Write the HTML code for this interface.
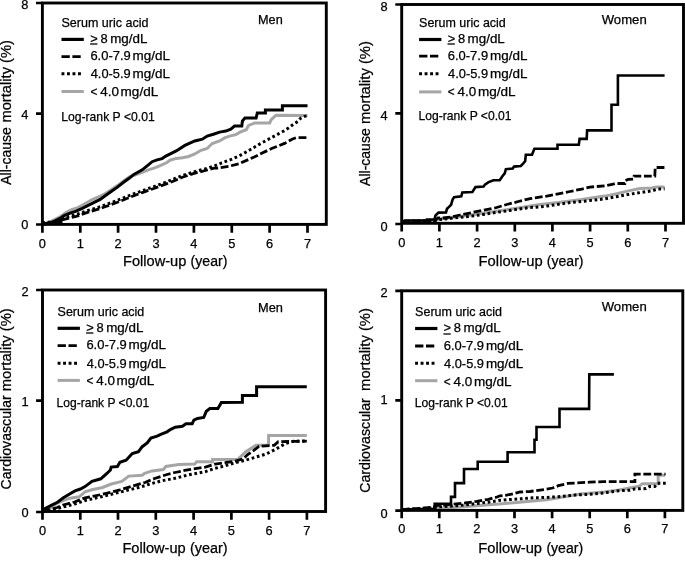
<!DOCTYPE html>
<html><head><meta charset="utf-8"><style>
html,body{margin:0;padding:0;background:#fff;}
svg{display:block;}
text{font-family:"Liberation Sans", sans-serif;fill:#000;stroke:#000;stroke-width:0.25px;}
svg{-webkit-font-smoothing:antialiased;}
</style></head><body>
<svg width="685" height="564" viewBox="0 0 685 564" style="will-change:transform">
<rect width="685" height="564" fill="#fff"/>
<path d="M42.2,224.5 L49.0,222.3 L55.0,219.3 L61.0,216.3 L66.0,212.5 L72.2,209.3 L78.0,207.6 L82.2,205.2 L91.8,199.8 L100.2,196.1 L105.0,193.8 L111.2,189.8 L117.4,185.6 L123.6,181.0 L129.8,176.6 L133.5,175.5 L142.2,172.3 L148.4,169.8 L154.6,167.9 L160.8,165.4 L167.0,162.5 L170.0,160.2 L176.2,158.4 L182.4,157.8 L188.6,156.5 L194.8,154.0 L201.0,150.3 L207.2,148.5 L212.2,143.5 L219.6,141.0 L224.6,137.9 L229.6,136.1 L235.8,134.6 L240.0,132.2 L246.2,129.7 L248.6,125.4 L254.9,122.9 L269.7,122.9 L271.0,119.8 L275.9,115.3 L307.5,115.4" fill="none" stroke="#a5a5a5" stroke-width="3" stroke-linejoin="miter"/>
<path d="M42.2,222.6 L60.5,221.8 L62.0,218.2 L76.1,214.6 L88.2,210.4 L100.2,206.8 L105.0,205.0 L117.4,200.3 L129.8,195.3 L142.2,190.8 L154.6,186.4 L167.0,181.8 L175.0,178.5 L182.4,175.6 L194.8,171.6 L207.2,168.3 L214.0,166.0 L221.9,162.8 L230.6,159.7 L239.4,155.8 L248.2,150.9 L256.9,145.7 L260.0,143.9 L272.2,137.2 L284.6,130.6 L288.9,127.8 L293.3,124.3 L297.7,121.6 L300.4,118.5 L304.8,116.3 L307.5,115.6" fill="none" stroke="#000" stroke-width="3" stroke-dasharray="2.7 2.7"/>
<path d="M42.2,223.6 L60.5,222.6 L62.0,219.8 L76.1,216.4 L88.2,212.2 L100.2,208.6 L105.0,206.8 L117.4,202.3 L129.8,197.3 L142.2,192.6 L154.6,188.2 L167.0,183.6 L175.0,180.5 L182.4,177.2 L194.8,173.2 L207.2,170.0 L214.0,168.2 L217.5,168.0 L228.9,166.3 L239.4,163.6 L249.0,159.3 L256.9,155.8 L260.0,154.0 L272.2,148.3 L284.6,143.4 L292.1,139.2 L296.0,137.7 L307.5,137.7" fill="none" stroke="#000" stroke-width="2.8" stroke-dasharray="7.8 2.7"/>
<path d="M42.2,224.5 L49.0,223.3 L55.0,220.8 L61.0,217.8 L64.1,215.5 L70.1,213.2 L76.1,211.2 L82.2,208.4 L88.2,205.4 L94.2,202.4 L100.2,199.4 L105.5,195.5 L111.2,191.5 L117.4,187.1 L123.6,182.2 L129.8,177.8 L133.5,174.7 L142.2,169.8 L148.4,164.8 L152.1,161.7 L157.1,159.9 L162.1,158.6 L165.8,156.1 L170.8,153.6 L176.2,150.9 L184.9,145.4 L194.8,141.0 L202.3,139.2 L207.2,136.1 L213.4,134.2 L219.6,132.1 L225.8,131.1 L230.8,129.2 L234.5,126.1 L241.8,126.0 L242.4,121.1 L244.9,118.0 L256.1,118.0 L257.3,113.0 L265.4,113.0 L265.4,110.0 L282.4,110.0 L282.4,105.7 L307.5,105.7" fill="none" stroke="#000" stroke-width="3.0" stroke-linejoin="miter" stroke-linecap="butt"/>
<path d="M401.7,222.0 L405.0,221.0 L434.0,220.5 L440.0,219.0 L460.0,216.5 L495.0,211.5 L540.0,204.5 L558.4,202.6 L581.7,199.6 L599.3,196.7 L605.0,196.1 L616.7,193.8 L628.4,190.9 L640.0,188.6 L651.7,188.0 L656.4,187.1 L664.6,187.1" fill="none" stroke="#a5a5a5" stroke-width="3" stroke-linejoin="miter"/>
<path d="M401.7,222.0 L405.0,221.2 L434.0,220.8 L440.0,219.5 L460.0,217.3 L471.7,216.1 L483.4,214.4 L495.0,212.6 L506.7,210.9 L518.4,209.1 L530.1,207.4 L535.0,207.2 L546.7,206.1 L558.4,204.3 L570.0,202.6 L581.7,201.4 L593.4,200.2 L605.1,198.8 L616.7,196.7 L628.4,194.4 L640.0,192.6 L651.7,190.9 L657.6,189.1 L664.6,189.1" fill="none" stroke="#000" stroke-width="3" stroke-dasharray="2.7 2.7"/>
<path d="M401.7,222.0 L405.0,221.5 L434.0,221.0 L438.0,218.0 L442.9,218.0 L451.1,217.0 L460.0,215.0 L471.7,212.6 L483.4,210.3 L495.0,208.0 L506.7,204.5 L518.4,201.5 L530.1,198.6 L535.0,197.9 L546.7,196.1 L558.4,193.8 L570.0,191.5 L581.7,189.1 L589.9,187.1 L605.1,185.8 L612.0,184.5 L615.0,183.5 L624.9,183.5 L625.5,180.5 L628.2,179.4 L633.6,179.0 L634.1,176.2 L654.8,176.2 L655.2,167.5 L664.6,167.5" fill="none" stroke="#000" stroke-width="2.8" stroke-dasharray="7.8 2.7"/>
<path d="M401.7,222.3 L405.0,222.3 L405.0,220.5 L427.0,220.5 L427.0,219.6 L434.5,219.4 L435.5,215.5 L438.5,212.6 L446.0,212.4 L447.0,208.8 L448.5,207.3 L451.1,204.7 L452.6,199.6 L454.1,197.1 L461.3,196.3 L462.3,192.5 L472.4,192.0 L475.5,187.1 L483.6,186.5 L484.9,184.6 L488.6,182.1 L493.5,180.2 L499.7,180.2 L502.2,176.5 L504.7,173.4 L505.9,169.1 L512.8,168.5 L514.0,166.6 L520.8,166.0 L523.3,163.5 L525.2,161.0 L525.8,154.8 L532.0,154.8 L533.2,151.7 L534.4,148.7 L557.5,148.7 L557.5,144.8 L578.8,144.8 L579.6,138.9 L586.7,138.9 L587.1,130.4 L611.5,130.4 L611.5,104.7 L617.9,104.7 L617.9,75.5 L664.6,75.5" fill="none" stroke="#000" stroke-width="2.6" stroke-linejoin="miter" stroke-linecap="butt"/>
<path d="M42.5,511.5 L50.0,508.0 L57.5,503.0 L63.1,500.6 L70.0,498.2 L79.2,496.8 L85.0,491.9 L91.9,489.8 L102.5,487.5 L111.3,484.0 L121.8,481.4 L128.8,476.1 L142.2,475.2 L144.7,473.3 L152.1,470.9 L163.3,469.6 L165.8,466.5 L178.9,464.5 L194.8,464.1 L196.6,461.8 L212.6,461.8 L212.6,459.6 L237.5,459.6 L245.6,452.0 L255.9,445.3 L268.6,445.3 L268.6,435.6 L306.8,435.6" fill="none" stroke="#a5a5a5" stroke-width="3" stroke-linejoin="miter"/>
<path d="M42.5,511.5 L50.0,510.0 L57.3,508.5 L63.1,507.0 L74.6,504.0 L85.0,500.5 L102.5,496.5 L120.0,492.1 L137.5,487.8 L145.0,485.6 L148.4,484.5 L160.8,481.0 L175.0,478.3 L187.7,475.1 L205.4,471.6 L215.0,468.3 L225.2,465.8 L235.4,462.7 L245.6,460.1 L255.9,457.1 L266.1,454.0 L276.3,448.9 L285.0,443.8 L293.5,441.2 L306.8,441.0" fill="none" stroke="#000" stroke-width="3" stroke-dasharray="2.7 2.7"/>
<path d="M42.5,511.5 L50.0,509.5 L57.3,507.5 L63.1,505.0 L74.6,502.0 L85.0,497.8 L102.5,494.3 L120.0,489.9 L137.5,484.6 L145.0,482.5 L154.6,478.5 L167.0,474.5 L175.0,472.5 L187.7,469.8 L205.4,467.1 L215.0,464.2 L225.2,462.7 L235.4,461.2 L243.6,458.6 L247.7,454.5 L253.8,450.4 L258.9,446.3 L266.1,445.8 L274.2,445.3 L278.3,441.7 L306.8,441.2" fill="none" stroke="#000" stroke-width="2.8" stroke-dasharray="7.8 2.7"/>
<path d="M42.5,511.0 L43.5,509.4 L51.7,505.1 L57.5,502.3 L63.4,497.8 L69.2,494.3 L75.0,490.9 L80.4,489.0 L85.0,486.6 L92.0,481.4 L100.8,478.8 L106.9,473.5 L110.4,470.0 L111.2,467.1 L117.4,466.5 L119.9,462.2 L126.1,460.3 L132.3,453.5 L138.5,451.6 L142.2,446.7 L147.2,443.0 L150.9,438.0 L157.1,436.1 L160.8,434.3 L167.0,431.8 L170.8,429.3 L175.3,427.2 L182.4,426.3 L186.0,423.7 L192.2,423.7 L193.9,420.1 L197.5,418.4 L203.7,417.5 L206.3,411.3 L209.9,408.6 L217.9,408.6 L221.4,402.4 L242.4,402.2 L242.4,395.6 L256.6,395.6 L256.6,386.7 L306.8,386.7" fill="none" stroke="#000" stroke-width="3.0" stroke-linejoin="miter" stroke-linecap="butt"/>
<path d="M401.7,510.0 L434.0,508.5 L453.4,507.4 L476.7,505.7 L501.9,503.7 L516.5,502.6 L530.0,501.2 L546.7,499.7 L564.3,496.8 L580.0,494.0 L604.2,492.1 L618.8,489.9 L639.2,486.3 L642.3,483.7 L658.2,483.7 L658.2,475.2 L665.0,475.2" fill="none" stroke="#a5a5a5" stroke-width="3" stroke-linejoin="miter"/>
<path d="M401.7,510.0 L405.0,509.5 L434.0,507.8 L437.0,507.0 L453.4,506.0 L465.0,505.0 L476.7,503.5 L488.4,502.2 L500.0,500.3 L512.8,499.3 L523.8,498.6 L530.0,497.9 L535.0,497.8 L546.7,497.4 L558.4,496.8 L570.1,495.6 L575.0,495.0 L589.6,494.3 L604.2,492.8 L618.8,490.7 L630.0,490.2 L634.9,488.9 L646.0,488.6 L649.6,486.5 L654.8,486.5 L657.6,483.3 L667.0,483.3" fill="none" stroke="#000" stroke-width="3" stroke-dasharray="2.7 2.7"/>
<path d="M401.7,510.0 L405.0,509.3 L420.0,508.3 L434.0,507.0 L437.0,505.5 L453.4,504.2 L465.0,503.0 L476.7,501.4 L488.4,499.3 L497.0,497.0 L500.0,495.8 L505.5,495.3 L512.8,493.9 L520.1,492.0 L530.0,491.5 L546.7,489.2 L552.6,488.0 L558.4,485.7 L567.8,483.4 L575.0,483.1 L589.6,482.2 L604.2,481.6 L634.9,481.6 L634.9,474.2 L665.6,474.2" fill="none" stroke="#000" stroke-width="2.8" stroke-dasharray="7.8 2.7"/>
<path d="M401.7,509.3 L434.7,509.2 L434.7,503.7 L451.0,503.7 L451.0,496.9 L455.0,496.9 L455.0,483.1 L464.0,483.1 L464.0,469.0 L477.7,469.0 L477.7,461.7 L507.6,461.7 L507.6,452.2 L534.5,452.2 L534.5,439.7 L536.5,439.7 L536.5,427.0 L559.5,427.0 L559.5,408.9 L589.1,408.9 L589.3,374.4 L613.9,374.4" fill="none" stroke="#000" stroke-width="2.6" stroke-linejoin="miter" stroke-linecap="butt"/>
<path d="M42.2,224.5 L48.8,222.8 L54.6,220.6 L60.5,217.8 L62.5,217.5 L62.5,224.5Z" fill="#000"/>
<rect x="42.4" y="3.0" width="283.9" height="221.4" fill="none" stroke="#000" stroke-width="2.9"/>
<text x="42.4" y="247.7" font-size="12.8" text-anchor="middle">0</text>
<text x="80.3" y="247.7" font-size="12.8" text-anchor="middle">1</text>
<text x="118.1" y="247.7" font-size="12.8" text-anchor="middle">2</text>
<text x="156.0" y="247.7" font-size="12.8" text-anchor="middle">3</text>
<text x="193.9" y="247.7" font-size="12.8" text-anchor="middle">4</text>
<text x="231.8" y="247.7" font-size="12.8" text-anchor="middle">5</text>
<text x="269.6" y="247.7" font-size="12.8" text-anchor="middle">6</text>
<text x="307.5" y="247.7" font-size="12.8" text-anchor="middle">7</text>
<text x="28.4" y="229.4" font-size="12.8" text-anchor="end">0</text>
<text x="28.4" y="118.8" font-size="12.8" text-anchor="end">4</text>
<text x="28.4" y="9.0" font-size="12.8" text-anchor="end">8</text>
<path d="M42.4 224.4V232.7 M80.3 224.4V232.7 M118.1 224.4V232.7 M156.0 224.4V232.7 M193.9 224.4V232.7 M231.8 224.4V232.7 M269.6 224.4V232.7 M307.5 224.4V232.7 M42.4 224.5H36.0 M42.4 113.6H36.0 M42.4 3.0H36.0" stroke="#000" stroke-width="2.7" fill="none"/>
<text transform="translate(11.3 184.8) rotate(-90)" font-size="14" textLength="57.6" lengthAdjust="spacingAndGlyphs">All-cause</text>
<text transform="translate(11.3 122.6) rotate(-90)" font-size="14" textLength="82.6" lengthAdjust="spacingAndGlyphs">mortality (%)</text>
<text x="123.0" y="265.8" font-size="14" textLength="63.4" lengthAdjust="spacingAndGlyphs">Follow-up</text>
<text x="190.6" y="265.8" font-size="14" textLength="36.8" lengthAdjust="spacingAndGlyphs">(year)</text>
<text x="258.0" y="24.3" font-size="12.6" textLength="24.7" lengthAdjust="spacingAndGlyphs">Men</text>
<text x="61.5" y="26.8" font-size="12.6" textLength="86.9" lengthAdjust="spacingAndGlyphs">Serum uric acid</text>
<path d="M61.5 39.4H83.8" stroke="#000" stroke-width="3.2"/>
<path d="M61.5 56.6H81.0" stroke="#000" stroke-width="2.8" stroke-dasharray="8.3 2.6"/>
<path d="M61.5 73.8H81.0" stroke="#000" stroke-width="3" stroke-dasharray="2.9 2.6"/>
<path d="M61.5 91.5H83.8" stroke="#a5a5a5" stroke-width="3"/>
<text x="90.3" y="42.6" font-size="12.6" textLength="7.5" lengthAdjust="spacingAndGlyphs">></text>
<text x="100.5" y="42.6" font-size="12.6" textLength="7.2" lengthAdjust="spacingAndGlyphs">8</text>
<text x="110.2" y="42.6" font-size="12.6" textLength="37.2" lengthAdjust="spacingAndGlyphs">mg/dL</text>
<text x="90.4" y="59.9" font-size="12.6" textLength="40.3" lengthAdjust="spacingAndGlyphs">6.0-7.9</text>
<text x="132.6" y="59.9" font-size="12.6" textLength="37.4" lengthAdjust="spacingAndGlyphs">mg/dL</text>
<text x="90.7" y="78.2" font-size="12.6" textLength="40.0" lengthAdjust="spacingAndGlyphs">4.0-5.9</text>
<text x="132.6" y="78.2" font-size="12.6" textLength="37.4" lengthAdjust="spacingAndGlyphs">mg/dL</text>
<text x="90.4" y="95.8" font-size="12.6" textLength="6.9" lengthAdjust="spacingAndGlyphs">&lt;</text>
<text x="100.2" y="95.8" font-size="12.6" textLength="18.7" lengthAdjust="spacingAndGlyphs">4.0</text>
<text x="120.6" y="95.8" font-size="12.6" textLength="37.6" lengthAdjust="spacingAndGlyphs">mg/dL</text>
<path d="M90.1 44.0h7.3" stroke="#000" stroke-width="1.3"/>
<text x="61.2" y="121.3" font-size="12.6" textLength="93.5" lengthAdjust="spacingAndGlyphs">Log-rank P &lt;0.01</text>
<rect x="401.7" y="4.5" width="281.8" height="218.8" fill="none" stroke="#000" stroke-width="2.9"/>
<text x="401.7" y="246.7" font-size="12.8" text-anchor="middle">0</text>
<text x="439.4" y="246.7" font-size="12.8" text-anchor="middle">1</text>
<text x="477.1" y="246.7" font-size="12.8" text-anchor="middle">2</text>
<text x="514.8" y="246.7" font-size="12.8" text-anchor="middle">3</text>
<text x="552.4" y="246.7" font-size="12.8" text-anchor="middle">4</text>
<text x="590.1" y="246.7" font-size="12.8" text-anchor="middle">5</text>
<text x="627.8" y="246.7" font-size="12.8" text-anchor="middle">6</text>
<text x="665.5" y="246.7" font-size="12.8" text-anchor="middle">7</text>
<text x="387.7" y="230.6" font-size="12.8" text-anchor="end">0</text>
<text x="387.7" y="120.1" font-size="12.8" text-anchor="end">4</text>
<text x="387.7" y="10.6" font-size="12.8" text-anchor="end">8</text>
<path d="M401.7 223.3V231.5 M439.4 223.3V231.5 M477.1 223.3V231.5 M514.8 223.3V231.5 M552.4 223.3V231.5 M590.1 223.3V231.5 M627.8 223.3V231.5 M665.5 223.3V231.5 M401.7 224.0H395.3 M401.7 113.3H395.3 M401.7 4.5H395.3" stroke="#000" stroke-width="2.7" fill="none"/>
<text transform="translate(370.0 185.9) rotate(-90)" font-size="14" textLength="57.6" lengthAdjust="spacingAndGlyphs">All-cause</text>
<text transform="translate(370.0 124.0) rotate(-90)" font-size="14" textLength="82.9" lengthAdjust="spacingAndGlyphs">mortality (%)</text>
<text x="478.6" y="266.1" font-size="14" textLength="64.1" lengthAdjust="spacingAndGlyphs">Follow-up</text>
<text x="546.8" y="266.1" font-size="14" textLength="36.7" lengthAdjust="spacingAndGlyphs">(year)</text>
<text x="601.7" y="23.9" font-size="12.6" textLength="45.0" lengthAdjust="spacingAndGlyphs">Women</text>
<text x="419.1" y="26.8" font-size="12.6" textLength="86.7" lengthAdjust="spacingAndGlyphs">Serum uric acid</text>
<path d="M419.1 39.5H441.4" stroke="#000" stroke-width="3.2"/>
<path d="M419.1 56.2H438.6" stroke="#000" stroke-width="2.8" stroke-dasharray="8.3 2.6"/>
<path d="M419.1 73.7H438.6" stroke="#000" stroke-width="3" stroke-dasharray="2.9 2.6"/>
<path d="M419.1 91.9H441.4" stroke="#a5a5a5" stroke-width="3"/>
<text x="447.7" y="42.6" font-size="12.6" textLength="7.5" lengthAdjust="spacingAndGlyphs">></text>
<text x="457.9" y="42.6" font-size="12.6" textLength="7.2" lengthAdjust="spacingAndGlyphs">8</text>
<text x="467.6" y="42.6" font-size="12.6" textLength="37.2" lengthAdjust="spacingAndGlyphs">mg/dL</text>
<text x="447.8" y="59.9" font-size="12.6" textLength="40.3" lengthAdjust="spacingAndGlyphs">6.0-7.9</text>
<text x="490.0" y="59.9" font-size="12.6" textLength="37.4" lengthAdjust="spacingAndGlyphs">mg/dL</text>
<text x="448.1" y="78.4" font-size="12.6" textLength="40.0" lengthAdjust="spacingAndGlyphs">4.0-5.9</text>
<text x="490.0" y="78.4" font-size="12.6" textLength="37.4" lengthAdjust="spacingAndGlyphs">mg/dL</text>
<text x="447.8" y="96.0" font-size="12.6" textLength="6.9" lengthAdjust="spacingAndGlyphs">&lt;</text>
<text x="457.6" y="96.0" font-size="12.6" textLength="18.7" lengthAdjust="spacingAndGlyphs">4.0</text>
<text x="478.0" y="96.0" font-size="12.6" textLength="37.6" lengthAdjust="spacingAndGlyphs">mg/dL</text>
<path d="M447.5 44.0h7.3" stroke="#000" stroke-width="1.3"/>
<text x="418.5" y="120.3" font-size="12.6" textLength="93.0" lengthAdjust="spacingAndGlyphs">Log-rank P &lt;0.01</text>
<rect x="42.5" y="290.0" width="283.1" height="221.5" fill="none" stroke="#000" stroke-width="2.9"/>
<text x="42.5" y="535.0" font-size="12.8" text-anchor="middle">0</text>
<text x="80.3" y="535.0" font-size="12.8" text-anchor="middle">1</text>
<text x="118.0" y="535.0" font-size="12.8" text-anchor="middle">2</text>
<text x="155.8" y="535.0" font-size="12.8" text-anchor="middle">3</text>
<text x="193.6" y="535.0" font-size="12.8" text-anchor="middle">4</text>
<text x="231.4" y="535.0" font-size="12.8" text-anchor="middle">5</text>
<text x="269.1" y="535.0" font-size="12.8" text-anchor="middle">6</text>
<text x="306.9" y="535.0" font-size="12.8" text-anchor="middle">7</text>
<text x="28.5" y="516.5" font-size="12.8" text-anchor="end">0</text>
<text x="28.5" y="406.2" font-size="12.8" text-anchor="end">1</text>
<text x="28.5" y="295.9" font-size="12.8" text-anchor="end">2</text>
<path d="M42.5 511.5V519.7 M80.3 511.5V519.7 M118.0 511.5V519.7 M155.8 511.5V519.7 M193.6 511.5V519.7 M231.4 511.5V519.7 M269.1 511.5V519.7 M306.9 511.5V519.7 M42.5 512.0H36.1 M42.5 400.7H36.1 M42.5 290.0H36.1" stroke="#000" stroke-width="2.7" fill="none"/>
<text transform="translate(11.3 489.5) rotate(-90)" font-size="14" textLength="94.2" lengthAdjust="spacingAndGlyphs">Cardiovascular</text>
<text transform="translate(11.3 391.2) rotate(-90)" font-size="14" textLength="83.0" lengthAdjust="spacingAndGlyphs">mortality (%)</text>
<text x="122.4" y="553.2" font-size="14" textLength="63.3" lengthAdjust="spacingAndGlyphs">Follow-up</text>
<text x="189.9" y="553.2" font-size="14" textLength="37.7" lengthAdjust="spacingAndGlyphs">(year)</text>
<text x="258.0" y="311.5" font-size="12.6" textLength="24.9" lengthAdjust="spacingAndGlyphs">Men</text>
<text x="57.6" y="315.6" font-size="12.6" textLength="86.7" lengthAdjust="spacingAndGlyphs">Serum uric acid</text>
<path d="M57.6 328.3H79.9" stroke="#000" stroke-width="3.2"/>
<path d="M57.6 345.6H77.1" stroke="#000" stroke-width="2.8" stroke-dasharray="8.3 2.6"/>
<path d="M57.6 363.3H77.1" stroke="#000" stroke-width="3" stroke-dasharray="2.9 2.6"/>
<path d="M57.6 380.4H79.9" stroke="#a5a5a5" stroke-width="3"/>
<text x="86.3" y="331.7" font-size="12.6" textLength="7.5" lengthAdjust="spacingAndGlyphs">></text>
<text x="96.5" y="331.7" font-size="12.6" textLength="7.2" lengthAdjust="spacingAndGlyphs">8</text>
<text x="106.2" y="331.7" font-size="12.6" textLength="37.2" lengthAdjust="spacingAndGlyphs">mg/dL</text>
<text x="86.4" y="349.2" font-size="12.6" textLength="40.3" lengthAdjust="spacingAndGlyphs">6.0-7.9</text>
<text x="128.6" y="349.2" font-size="12.6" textLength="37.4" lengthAdjust="spacingAndGlyphs">mg/dL</text>
<text x="86.7" y="367.5" font-size="12.6" textLength="40.0" lengthAdjust="spacingAndGlyphs">4.0-5.9</text>
<text x="128.6" y="367.5" font-size="12.6" textLength="37.4" lengthAdjust="spacingAndGlyphs">mg/dL</text>
<text x="86.4" y="385.1" font-size="12.6" textLength="6.9" lengthAdjust="spacingAndGlyphs">&lt;</text>
<text x="96.2" y="385.1" font-size="12.6" textLength="18.7" lengthAdjust="spacingAndGlyphs">4.0</text>
<text x="116.6" y="385.1" font-size="12.6" textLength="37.6" lengthAdjust="spacingAndGlyphs">mg/dL</text>
<path d="M86.1 333.0h7.3" stroke="#000" stroke-width="1.3"/>
<text x="56.6" y="406.9" font-size="12.6" textLength="92.5" lengthAdjust="spacingAndGlyphs">Log-rank P &lt;0.01</text>
<rect x="401.7" y="290.8" width="281.1" height="219.6" fill="none" stroke="#000" stroke-width="2.9"/>
<text x="401.7" y="533.4" font-size="12.8" text-anchor="middle">0</text>
<text x="439.3" y="533.4" font-size="12.8" text-anchor="middle">1</text>
<text x="476.9" y="533.4" font-size="12.8" text-anchor="middle">2</text>
<text x="514.5" y="533.4" font-size="12.8" text-anchor="middle">3</text>
<text x="552.1" y="533.4" font-size="12.8" text-anchor="middle">4</text>
<text x="589.7" y="533.4" font-size="12.8" text-anchor="middle">5</text>
<text x="627.3" y="533.4" font-size="12.8" text-anchor="middle">6</text>
<text x="664.9" y="533.4" font-size="12.8" text-anchor="middle">7</text>
<text x="387.7" y="517.8" font-size="12.8" text-anchor="end">0</text>
<text x="387.7" y="404.0" font-size="12.8" text-anchor="end">1</text>
<text x="387.7" y="297.2" font-size="12.8" text-anchor="end">2</text>
<path d="M401.7 510.4V518.3 M439.3 510.4V518.3 M476.9 510.4V518.3 M514.5 510.4V518.3 M552.1 510.4V518.3 M589.7 510.4V518.3 M627.3 510.4V518.3 M664.9 510.4V518.3 M401.7 510.7H395.3 M401.7 400.4H395.3 M401.7 290.8H395.3" stroke="#000" stroke-width="2.7" fill="none"/>
<text transform="translate(370.0 492.8) rotate(-90)" font-size="14" textLength="94.6" lengthAdjust="spacingAndGlyphs">Cardiovascular</text>
<text transform="translate(370.0 390.9) rotate(-90)" font-size="14" textLength="82.7" lengthAdjust="spacingAndGlyphs">mortality (%)</text>
<text x="478.3" y="553.2" font-size="14" textLength="63.7" lengthAdjust="spacingAndGlyphs">Follow-up</text>
<text x="546.4" y="553.2" font-size="14" textLength="36.7" lengthAdjust="spacingAndGlyphs">(year)</text>
<text x="601.7" y="311.0" font-size="12.6" textLength="45.0" lengthAdjust="spacingAndGlyphs">Women</text>
<text x="415.1" y="316.0" font-size="12.6" textLength="86.9" lengthAdjust="spacingAndGlyphs">Serum uric acid</text>
<path d="M415.1 328.5H437.4" stroke="#000" stroke-width="3.2"/>
<path d="M415.1 346.0H434.6" stroke="#000" stroke-width="2.8" stroke-dasharray="8.3 2.6"/>
<path d="M415.1 363.3H434.6" stroke="#000" stroke-width="3" stroke-dasharray="2.9 2.6"/>
<path d="M415.1 380.7H437.4" stroke="#a5a5a5" stroke-width="3"/>
<text x="443.6" y="332.1" font-size="12.6" textLength="7.5" lengthAdjust="spacingAndGlyphs">></text>
<text x="453.8" y="332.1" font-size="12.6" textLength="7.2" lengthAdjust="spacingAndGlyphs">8</text>
<text x="463.5" y="332.1" font-size="12.6" textLength="37.2" lengthAdjust="spacingAndGlyphs">mg/dL</text>
<text x="443.7" y="349.8" font-size="12.6" textLength="40.3" lengthAdjust="spacingAndGlyphs">6.0-7.9</text>
<text x="485.9" y="349.8" font-size="12.6" textLength="37.4" lengthAdjust="spacingAndGlyphs">mg/dL</text>
<text x="444.0" y="367.6" font-size="12.6" textLength="40.0" lengthAdjust="spacingAndGlyphs">4.0-5.9</text>
<text x="485.9" y="367.6" font-size="12.6" textLength="37.4" lengthAdjust="spacingAndGlyphs">mg/dL</text>
<text x="443.7" y="385.5" font-size="12.6" textLength="6.9" lengthAdjust="spacingAndGlyphs">&lt;</text>
<text x="453.5" y="385.5" font-size="12.6" textLength="18.7" lengthAdjust="spacingAndGlyphs">4.0</text>
<text x="473.9" y="385.5" font-size="12.6" textLength="37.6" lengthAdjust="spacingAndGlyphs">mg/dL</text>
<path d="M443.4 334.0h7.3" stroke="#000" stroke-width="1.3"/>
<text x="414.7" y="406.9" font-size="12.6" textLength="93.0" lengthAdjust="spacingAndGlyphs">Log-rank P &lt;0.01</text>
</svg>
</body></html>
